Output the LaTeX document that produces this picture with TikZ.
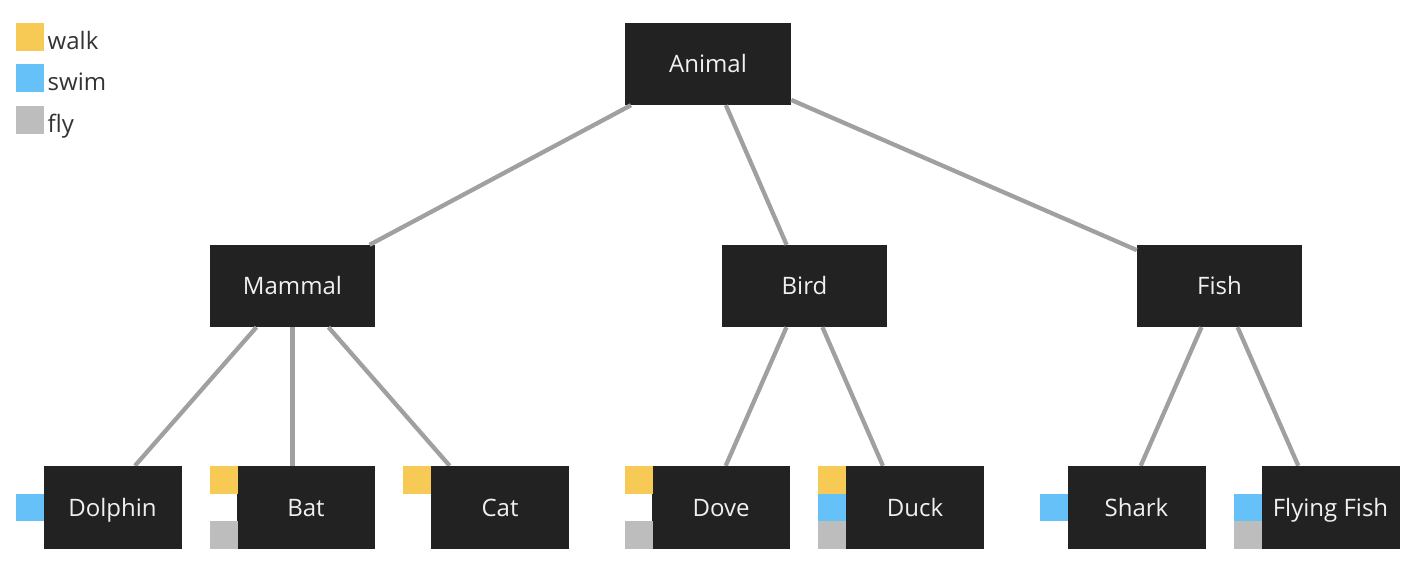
\documentclass[tikz,border=0pt]{standalone}
\usepackage{fontspec}
\setmainfont{Open Sans}
\definecolor{walkc}{HTML}{F7CA55}
\definecolor{swimc}{HTML}{66C1F9}
\definecolor{flyc}{HTML}{BDBDBD}
\definecolor{boxc}{HTML}{222222}
\definecolor{edgec}{HTML}{A0A0A0}
\definecolor{legtext}{HTML}{333333}
\begin{document}
\begin{tikzpicture}[x=1pt,y=-1pt,
  box/.style={fill=boxc, text={white!94!black}, minimum width=165pt, minimum height=82pt, inner sep=0pt, text height=17.5pt, text depth=0pt, font=\fontsize{24}{28}\selectfont},
  leaf/.style={box, minimum width=138pt, minimum height=83pt},
  slot/.style={minimum width=165pt, minimum height=83pt, inner sep=0pt},
  mk/.style={fill=#1, minimum width=28pt, minimum height=27.67pt, inner sep=0pt},
  legsq/.style={fill=#1, minimum width=28pt, minimum height=28pt, inner sep=0pt},
  legtx/.style={anchor=base west, inner sep=0pt, text=legtext, font=\fontsize{24}{28}\selectfont},
  edge/.style={draw=edgec, line width=4.3pt}
]
\useasboundingbox (0,0) rectangle (1412,564);

% legend
\node[legsq=walkc] (lw) at (30,37) {};
\node[legtx] (lwt) at (47.5,50) {walk};
\node[legsq=swimc] (ls) at (30,78.5) {};
\node[legtx] (lst) at (47.5,91) {swim};
\node[legsq=flyc] (lf) at (30,120) {};
\node[legtx] (lft) at (47.5,132.5) {fly};

% upper nodes
\node[box, minimum width=166pt] (animal) at (708,64) {Animal};
\node[box] (mammal) at (292.5,286) {Mammal};
\node[box] (bird) at (804.5,286) {Bird};
\node[box] (fish) at (1219.5,286) {Fish};

% leaf slots (box + marker column)
\node[slot] (dolphin) at (98.5,507.5) {};
\node[slot] (bat) at (292.5,507.5) {};
\node[slot] (cat) at (486,507.5) {};
\node[slot] (dove) at (707.5,507.5) {};
\node[slot] (duck) at (901,507.5) {};
\node[slot] (shark) at (1122.5,507.5) {};
\node[slot] (flyingfish) at (1316.5,507.5) {};

% edges
\draw[edge] (animal) -- (mammal);
\draw[edge] (animal) -- (bird);
\draw[edge] (animal) -- (fish);
\draw[edge] (mammal) -- (dolphin);
\draw[edge] (mammal) -- (bat);
\draw[edge] (mammal) -- (cat);
\draw[edge] (bird) -- (dove);
\draw[edge] (bird) -- (duck);
\draw[edge] (fish) -- (shark);
\draw[edge] (fish) -- (flyingfish);

% leaf boxes
\node[leaf] (dolphinbox) at (112.5,507.5) {Dolphin};
\node[leaf] (batbox) at (306,507.5) {Bat};
\node[leaf] (catbox) at (500,507.5) {Cat};
\node[leaf] (dovebox) at (721,507.5) {Dove};
\node[leaf] (duckbox) at (915,507.5) {Duck};
\node[leaf] (sharkbox) at (1136.5,507.5) {Shark};
\node[leaf] (flyingfishbox) at (1330.5,507.5) {Flying Fish};

% markers
\node[mk=swimc] (dolphinswim) at (30,507.5) {};
\node[mk=walkc] (batwalk) at (223.5,479.8) {};
\node[mk=flyc] (batfly) at (223.5,535.2) {};
\node[mk=walkc] (catwalk) at (417,479.8) {};
\node[mk=walkc] (dovewalk) at (638.5,479.8) {};
\node[mk=flyc] (dovefly) at (638.5,535.2) {};
\node[mk=walkc] (duckwalk) at (832,479.8) {};
\node[mk=swimc] (duckswim) at (832,507.5) {};
\node[mk=flyc] (duckfly) at (832,535.2) {};
\node[mk=swimc] (sharkswim) at (1054,507.5) {};
\node[mk=swimc] (flyingfishswim) at (1248,507.5) {};
\node[mk=flyc] (flyingfishfly) at (1248,535.2) {};
\end{tikzpicture}
\end{document}
